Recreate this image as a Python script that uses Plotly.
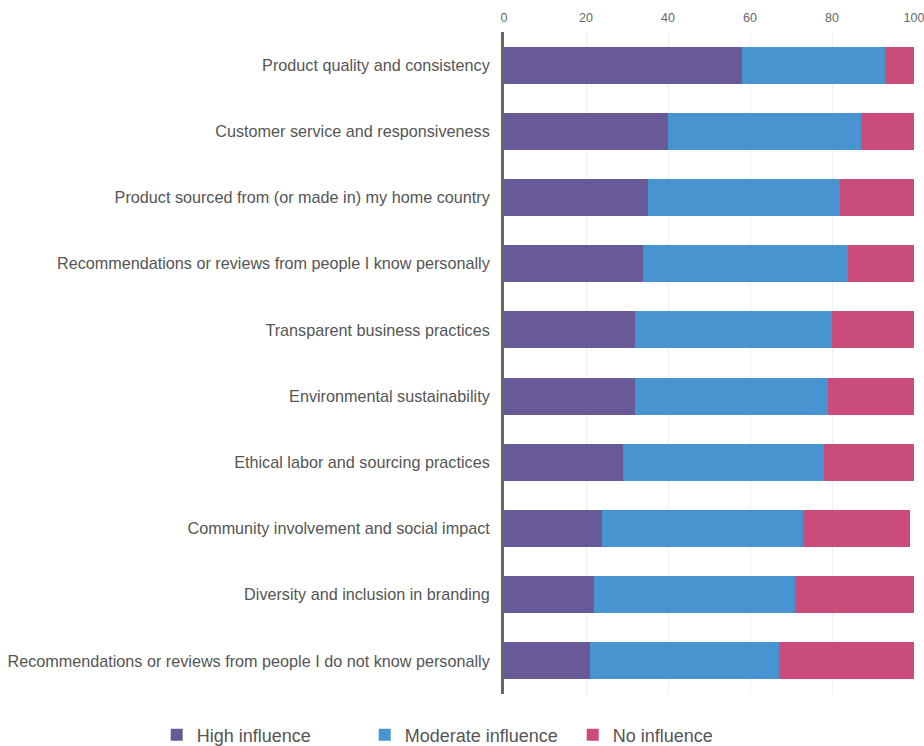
import plotly.graph_objects as go

categories = [
    "Product quality and consistency",
    "Customer service and responsiveness",
    "Product sourced from (or made in) my home country",
    "Recommendations or reviews from people I know personally",
    "Transparent business practices",
    "Environmental sustainability",
    "Ethical labor and sourcing practices",
    "Community involvement and social impact",
    "Diversity and inclusion in branding",
    "Recommendations or reviews from people I do not know personally",
]
high_influence = [58, 40, 35, 34, 32, 32, 29, 24, 22, 21]
moderate_influence = [35, 47, 47, 50, 48, 47, 49, 49, 49, 46]
no_influence = [7, 13, 18, 16, 20, 21, 22, 26, 29, 33]
x_ticks = [0, 20, 40, 60, 80, 100]

series = [
    ("High influence", high_influence, "#675a96"),
    ("Moderate influence", moderate_influence, "#4894d0"),
    ("No influence", no_influence, "#ca4c7a"),
]

fig = go.Figure()
for name, vals, color in series:
    fig.add_trace(go.Bar(
        y=categories, x=vals, name=name, orientation="h",
        marker=dict(color=color, line=dict(width=0)), width=0.56,
    ))

fig.update_layout(
    barmode="stack",
    width=924, height=746,
    margin=dict(l=504, r=10, t=32, b=52, autoexpand=False),
    paper_bgcolor="white", plot_bgcolor="white",
    font=dict(family="Liberation Sans, Arial, sans-serif", color="#555555"),
    xaxis=dict(
        side="top", range=[0, 100], tickvals=x_ticks,
        showgrid=True, gridcolor="#efefef", gridwidth=1,
        zeroline=False, showline=False, ticks="",
        tickfont=dict(size=12.5, color="#666666"), ticklabelstandoff=7,
        ticklabeloverflow="allow",
        automargin=False, fixedrange=True,
    ),
    yaxis=dict(
        autorange="reversed", showline=True, linecolor="#666666", linewidth=3,
        ticks="", tickfont=dict(size=16.2, color="#555555"), ticklabelstandoff=8,
        showgrid=False, automargin=False, fixedrange=True,
    ),
    legend=dict(
        orientation="h", xref="paper", yref="paper",
        x=-0.847, xanchor="left", y=-0.062, yanchor="middle",
        font=dict(size=18, color="#555555"),
        traceorder="normal", itemwidth=30, entrywidth=163, entrywidthmode="pixels",
    ),
    showlegend=True,
)

fig.write_html(
    "out.html",
    config={"displayModeBar": False},
    post_script="document.body.style.margin='0';document.body.style.overflow='hidden';",
)
